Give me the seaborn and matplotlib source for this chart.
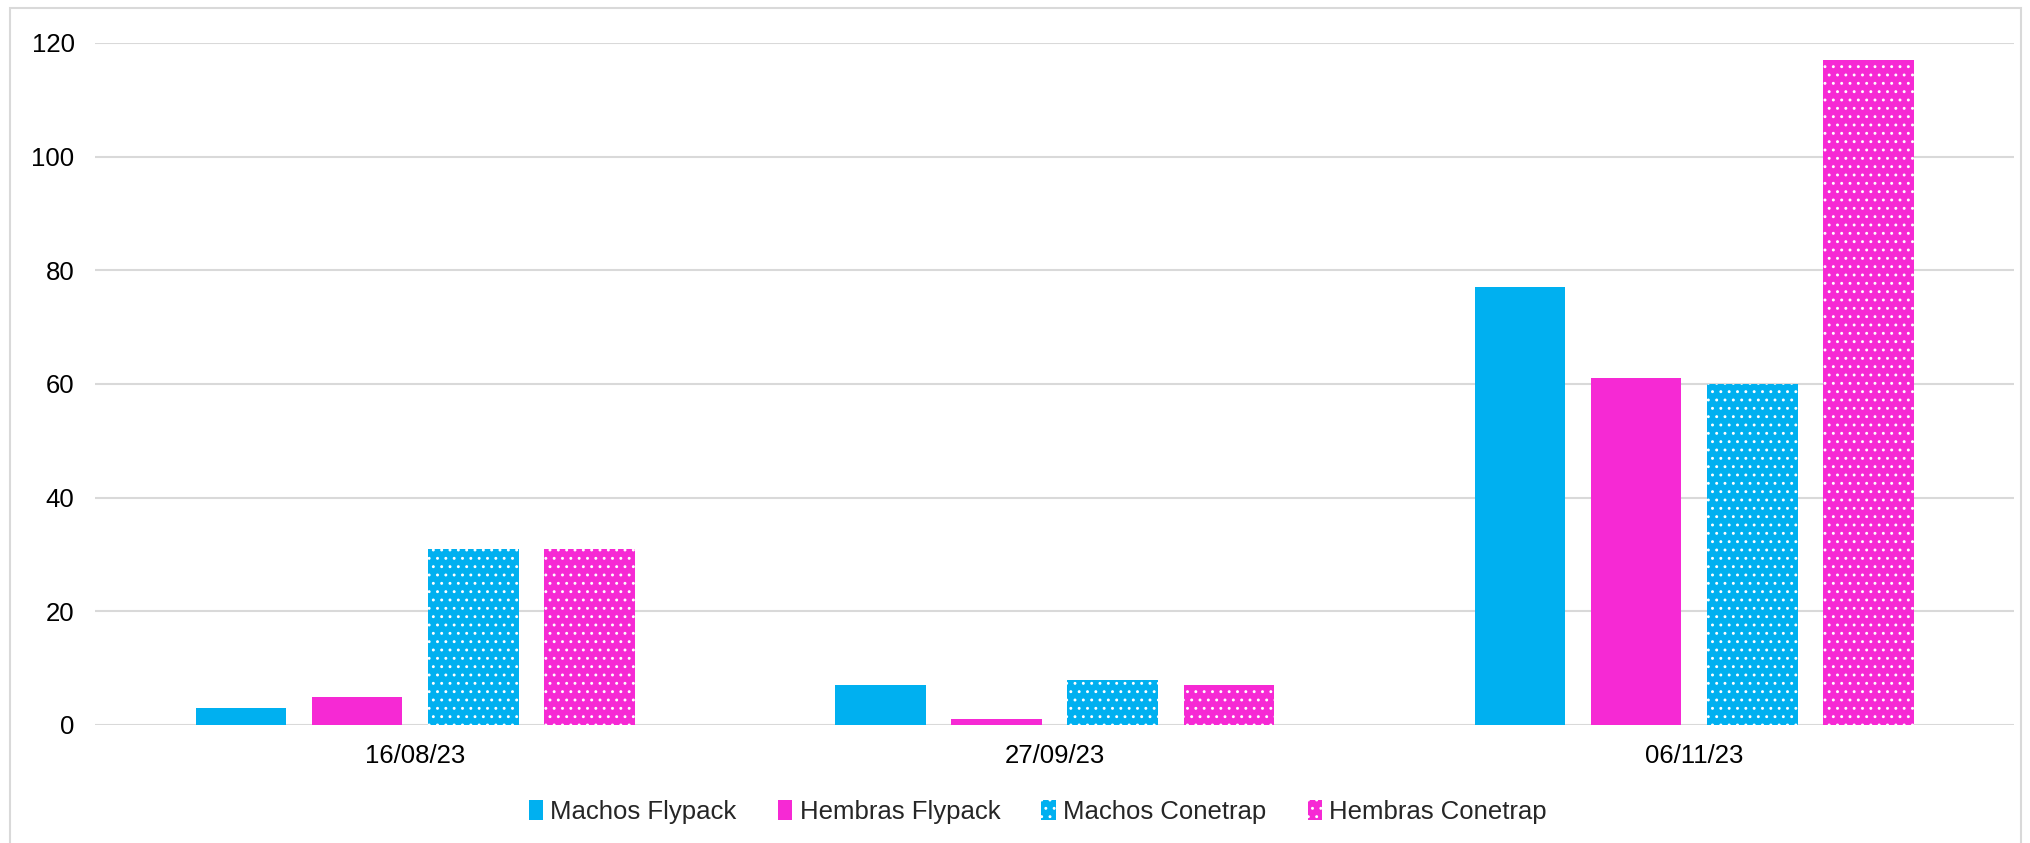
import matplotlib
matplotlib.use("Agg")
import matplotlib.pyplot as plt
from matplotlib.patches import Patch, Rectangle
import seaborn as sns
import pandas as pd

fechas = ["16/08/23", "27/09/23", "06/11/23"]
series = ["Machos Flypack", "Hembras Flypack", "Machos Conetrap", "Hembras Conetrap"]
machos_flypack = [3, 7, 77]
hembras_flypack = [5, 1, 61]
machos_conetrap = [31, 8, 60]
hembras_conetrap = [31, 7, 117]
y_ticks = [0, 20, 40, 60, 80, 100, 120]

CYAN = "#00B0F0"
MAGENTA = "#F629D4"
colors = [CYAN, MAGENTA, CYAN, MAGENTA]
hatched = [False, False, True, True]

rows = []
for s, vals in zip(series, [machos_flypack, hembras_flypack, machos_conetrap, hembras_conetrap]):
    for f, v in zip(fechas, vals):
        rows.append({"fecha": f, "serie": s, "valor": v})
df = pd.DataFrame(rows)

sns.set_theme(style="white")
plt.rcParams["font.family"] = ["Liberation Sans", "DejaVu Sans"]
plt.rcParams["hatch.linewidth"] = 0.9

fig = plt.figure(figsize=(20.31, 8.43), dpi=100)
ax = fig.add_axes([0.047, 0.14, 0.9446, 0.809])

sns.barplot(data=df, x="fecha", y="valor", hue="serie", order=fechas, hue_order=series,
            palette=colors, width=0.727, gap=0.22, ax=ax, legend=False,
            saturation=1, linewidth=0, errorbar=None)

# apply dotted pattern to Conetrap series
for container, h in zip(ax.containers, hatched):
    for p in container:
        if h:
            p.set_hatch("..")
            p.set_edgecolor("white")
            p.set_linewidth(0)

ax.set_ylim(0, 120)
ax.set_yticks(y_ticks)
ax.set_xlim(-0.5, len(fechas) - 0.5)
ax.yaxis.grid(True, color="#d9d9d9", linewidth=1.5)
ax.set_axisbelow(True)
for sp in ax.spines.values():
    sp.set_visible(False)
ax.tick_params(axis="both", length=0, labelsize=18.5, colors="black")
ax.tick_params(axis="y", pad=15)
ax.tick_params(axis="x", pad=14)
ax.set_xlabel("")
ax.set_ylabel("")

handles = []
for s, c, h in zip(series, colors, hatched):
    if h:
        handles.append(Patch(facecolor=c, edgecolor="white", hatch="..", linewidth=0, label=s))
    else:
        handles.append(Patch(facecolor=c, linewidth=0, label=s))
fig.legend(handles=handles, loc="center", bbox_to_anchor=(0.511, 0.037), ncol=4,
           frameon=False, fontsize=18.5, handlelength=0.55, handleheight=0.8,
           handletextpad=0.3, columnspacing=1.6)

fig.add_artist(Rectangle((0.005, -0.01), 0.99, 1.0, transform=fig.transFigure,
                         fill=False, edgecolor="#d9d9d9", linewidth=1.5))

fig.savefig("out.png", dpi=100)
